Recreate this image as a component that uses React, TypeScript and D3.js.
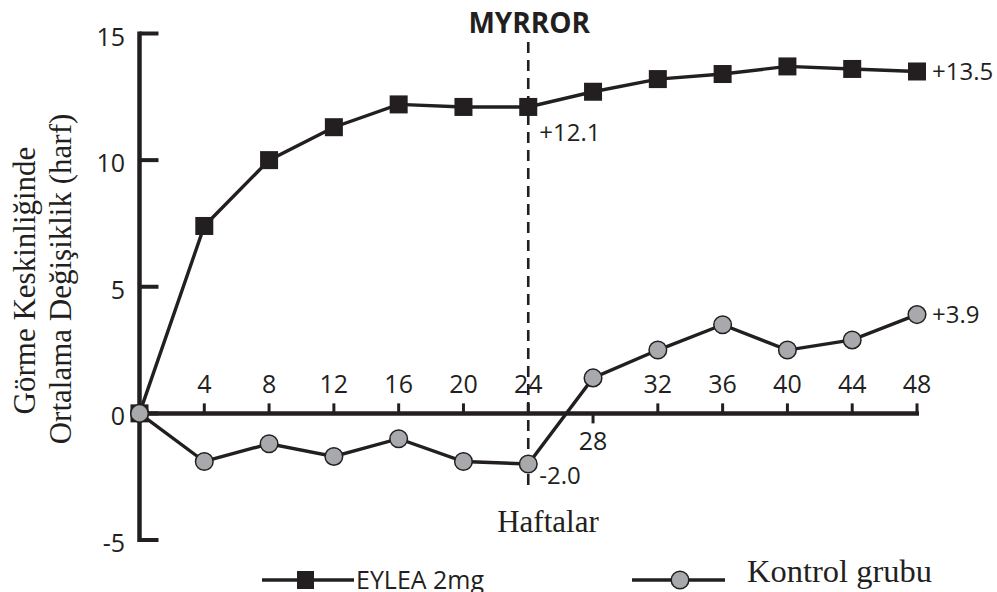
import React from "react";
import * as d3 from "d3";

const weeks = [0, 4, 8, 12, 16, 20, 24, 28, 32, 36, 40, 44, 48];
const eylea = [0, 7.4, 10.0, 11.3, 12.2, 12.1, 12.1, 12.7, 13.2, 13.4, 13.7, 13.6, 13.5];
const kontrol = [0, -1.9, -1.2, -1.7, -1.0, -1.9, -2.0, 1.4, 2.5, 3.5, 2.5, 2.9, 3.9];
const yTicks = [-5, 0, 5, 10, 15];
const xTicks = [4, 8, 12, 16, 20, 24, 28, 32, 36, 40, 44, 48];
const title = "MYRROR";
const yTitle = ["Görme Keskinliğinde", "Ortalama Değişiklik (harf)"];
const xTitle = "Haftalar";
const seriesNames = ["EYLEA 2mg", "Kontrol grubu"];

const W = 997;
const H = 592;
const ink = "#231f20";
const gray = "#a7a9ac";
const sans = "'Open Sans', 'Liberation Sans', sans-serif";
const serif = "'Liberation Serif', 'DejaVu Serif', serif";

export default function App() {
  const x = d3.scaleLinear().domain([0, 48]).range([139.5, 917]);
  const y = d3.scaleLinear().domain([-5, 15]).range([540, 33.5]);
  const line = d3
    .line<number>()
    .x((_, i) => x(weeks[i]))
    .y((d) => y(d));

  return (
    <svg
      width={W}
      height={H}
      style={{ position: "absolute", left: 0, top: 0, background: "#fff" }}
    >
      {/* y axis */}
      <line x1={x(0)} x2={x(0)} y1={y(15) - 2} y2={y(-5) + 2} stroke={ink} strokeWidth={4.5} />
      {yTicks.map((t) => (
        <g key={t}>
          <line x1={x(0)} x2={x(0) + 19} y1={y(t)} y2={y(t)} stroke={ink} strokeWidth={4} />
          <text
            x={125}
            y={y(t) + 3}
            dy="0.36em"
            textAnchor="end"
            fontFamily={sans}
            fontSize={25}
            fill={ink}
          >
            {t}
          </text>
        </g>
      ))}
      {/* x axis */}
      <line x1={x(0)} x2={x(48) + 2} y1={y(0)} y2={y(0)} stroke={ink} strokeWidth={4.5} />
      {xTicks.map((t) => {
        const below = t === 28;
        return (
          <g key={t}>
            <line
              x1={x(t)}
              x2={x(t)}
              y1={y(0)}
              y2={below ? y(0) + 10 : y(0) - 10}
              stroke={ink}
              strokeWidth={3}
            />
            <text
              x={x(t)}
              y={below ? y(0) + 37 : y(0) - 20}
              textAnchor="middle"
              fontFamily={sans}
              fontSize={25}
              fill={ink}
            >
              {t}
            </text>
          </g>
        );
      })}
      {/* dashed line */}
      <line
        x1={x(24)}
        x2={x(24)}
        y1={42}
        y2={491}
        stroke={ink}
        strokeWidth={2.6}
        strokeDasharray="11 7"
      />
      <text
        x={x(24) + 1}
        y={33}
        textAnchor="middle"
        fontFamily={sans}
        fontWeight={700}
        fontSize={28}
        fill={ink}
      >
        {title}
      </text>
      {/* lines */}
      <path d={line(kontrol) || ""} fill="none" stroke={ink} strokeWidth={3.4} />
      <path d={line(eylea) || ""} fill="none" stroke={ink} strokeWidth={3.4} />
      {eylea.map((v, i) => (
        <rect
          key={"e" + i}
          x={x(weeks[i]) - 9}
          y={y(v) - 9}
          width={18}
          height={18}
          fill={ink}
        />
      ))}
      {kontrol.map((v, i) => (
        <circle
          key={"k" + i}
          cx={x(weeks[i])}
          cy={y(v)}
          r={8.8}
          fill={gray}
          stroke={ink}
          strokeWidth={1.5}
        />
      ))}
      {/* value labels */}
      <text x={x(48) + 15} y={y(eylea[12])} dy="0.36em" fontFamily={sans} fontSize={24} fill={ink}>
        +{eylea[12].toFixed(1)}
      </text>
      <text x={x(24) + 11} y={y(eylea[6]) + 34} fontFamily={sans} fontSize={24} fill={ink}>
        +{eylea[6].toFixed(1)}
      </text>
      <text x={x(24) + 11} y={y(kontrol[6]) + 20} fontFamily={sans} fontSize={24} fill={ink}>
        {kontrol[6].toFixed(1)}
      </text>
      <text x={x(48) + 15} y={y(kontrol[12])} dy="0.36em" fontFamily={sans} fontSize={24} fill={ink}>
        +{kontrol[12].toFixed(1)}
      </text>
      {/* axis titles */}
      <text
        transform={`translate(35,280.5) rotate(-90)`}
        textAnchor="middle"
        fontFamily={serif}
        fontSize={31}
        fill={ink}
      >
        {yTitle[0]}
      </text>
      <text
        transform={`translate(71,279) rotate(-90)`}
        textAnchor="middle"
        fontFamily={serif}
        fontSize={31}
        fill={ink}
      >
        {yTitle[1]}
      </text>
      <text x={548} y={532} textAnchor="middle" fontFamily={serif} fontSize={31} fill={ink}>
        {xTitle}
      </text>
      {/* legend */}
      <line x1={262} x2={354} y1={580} y2={580} stroke={ink} strokeWidth={3.4} />
      <rect x={297} y={571} width={17} height={18} fill={ink} />
      <text x={356} y={589} fontFamily={sans} fontSize={26} fill={ink} textLength={128} lengthAdjust="spacingAndGlyphs">
        {seriesNames[0]}
      </text>
      <line x1={632} x2={725} y1={580} y2={580} stroke={ink} strokeWidth={3.4} />
      <circle cx={680} cy={580} r={8.8} fill={gray} stroke={ink} strokeWidth={1.5} />
      <text x={747} y={582} fontFamily={serif} fontSize={31} fill={ink} textLength={185} lengthAdjust="spacingAndGlyphs">
        {seriesNames[1]}
      </text>
    </svg>
  );
}
